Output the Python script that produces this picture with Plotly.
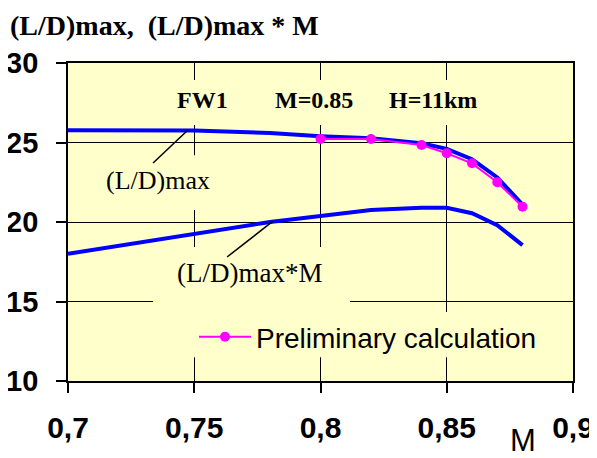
import plotly.graph_objects as go

# ---- data ----
mach = [0.70, 0.75, 0.78, 0.80, 0.82, 0.84, 0.85, 0.86, 0.87, 0.88]
ld_max = [25.77, 25.75, 25.6, 25.4, 25.27, 24.95, 24.6, 23.95, 22.8, 21.1]
ld_max_m = [18.0, 19.25, 20.0, 20.38, 20.75, 20.9, 20.9, 20.55, 19.8, 18.55]

mach_pre = [0.80, 0.82, 0.84, 0.85, 0.86, 0.87, 0.88]
ld_pre = [25.22, 25.22, 24.84, 24.32, 23.69, 22.5, 20.96]

x_tickvals = [0.7, 0.75, 0.8, 0.85, 0.9]
x_ticktext = ["0,7", "0,75", "0,8", "0,85", "0,9"]
y_tickvals = [10, 15, 20, 25, 30]
y_ticktext = ["10", "15", "20", "25", "30"]

BG = "#FFFFCC"
BLUE = "#0000FF"
MAGENTA = "#FF00FF"
SERIF = "Liberation Serif, Times New Roman, serif"
SANS = "Liberation Sans, Arial, sans-serif"

fig = go.Figure()
fig.add_trace(go.Scatter(x=mach, y=ld_max, mode="lines", line=dict(color=BLUE, width=4),
                         showlegend=False, hoverinfo="skip"))
fig.add_trace(go.Scatter(x=mach, y=ld_max_m, mode="lines", line=dict(color=BLUE, width=4),
                         showlegend=False, hoverinfo="skip"))
fig.add_trace(go.Scatter(x=mach_pre, y=ld_pre, mode="lines+markers", name="Preliminary calculation",
                         line=dict(color=MAGENTA, width=2),
                         marker=dict(color=MAGENTA, size=10)))

# boxes hiding grid lines behind text (drawn above grid, below traces)
boxes = [
    (0.742, 0.872, 26.1, 28.93),   # title text box
    (0.705, 0.780, 20.75, 24.2),   # (L/D)max label box
    (0.7337, 0.8117, 14.0, 18.43), # (L/D)max*M label box
    (0.745, 0.891, 11.5, 14.34),   # legend box
]
for x0, x1, y0, y1 in boxes:
    fig.add_shape(type="rect", xref="x", yref="y", x0=x0, x1=x1, y0=y0, y1=y1,
                  fillcolor=BG, line=dict(width=0), layer="between")

# leader lines
fig.add_shape(type="line", xref="x", yref="y", x0=0.7337, y0=23.71, x1=0.7473, y1=25.76,
              line=dict(color="black", width=1.5), layer="above")
fig.add_shape(type="line", xref="x", yref="y", x0=0.763, y0=17.8, x1=0.7812, y1=20.05,
              line=dict(color="black", width=1.5), layer="above")

# text annotations
fig.add_annotation(x=0.7531, y=27.67, xref="x", yref="y", text="FW1", showarrow=False,
                   font=dict(family=SERIF, size=24, color="black", weight="bold"))
fig.add_annotation(x=0.7974, y=27.67, xref="x", yref="y", text="M=0.85", showarrow=False,
                   font=dict(family=SERIF, size=24, color="black", weight="bold"))
fig.add_annotation(x=0.8444, y=27.67, xref="x", yref="y", text="H=11km", showarrow=False,
                   font=dict(family=SERIF, size=24, color="black", weight="bold"))
fig.add_annotation(x=0.7356, y=22.64, xref="x", yref="y", text="(L/D)max", showarrow=False,
                   font=dict(family=SERIF, size=26, color="black"))
fig.add_annotation(x=0.7719, y=16.79, xref="x", yref="y", text="(L/D)max*M", showarrow=False,
                   font=dict(family=SERIF, size=27, color="black"))
fig.add_annotation(x=-60 / 505, y=1 + 38 / 318, xref="paper", yref="paper",
                   xanchor="left", yanchor="middle", text="(L/D)max,  (L/D)max * M",
                   showarrow=False, font=dict(family=SERIF, size=28, color="black", weight="bold"))
fig.add_annotation(x=455 / 505, y=-(440 - 381) / 318, xref="paper", yref="paper",
                   xanchor="center", yanchor="middle", text="M", showarrow=False,
                   font=dict(family=SANS, size=31, color="black"))

fig.update_xaxes(range=[0.7, 0.9], tickvals=x_tickvals, ticktext=x_ticktext,
                 showgrid=True, gridcolor="black", gridwidth=1.3,
                 showline=True, linecolor="black", linewidth=1.8, mirror=True,
                 ticks="outside", ticklen=10, tickwidth=1.5, tickcolor="black",
                 ticklabelstandoff=9, zeroline=False, automargin=False,
                 tickfont=dict(family=SANS, size=30, color="black", weight="bold"))
fig.update_yaxes(range=[10, 30], tickvals=y_tickvals, ticktext=y_ticktext,
                 showgrid=True, gridcolor="black", gridwidth=1.3,
                 showline=True, linecolor="black", linewidth=1.8, mirror=True,
                 ticks="outside", ticklen=10, tickwidth=1.5, tickcolor="black",
                 ticklabelstandoff=12, zeroline=False, automargin=False,
                 tickfont=dict(family=SANS, size=29, color="black", weight="bold"))

fig.update_layout(
    width=597, height=458,
    margin=dict(l=60, r=32, t=55, b=85),
    paper_bgcolor="white", plot_bgcolor=BG,
    showlegend=True,
    legend=dict(x=(194 - 68) / 505, y=1 - (312 - 63) / 318, xanchor="left", yanchor="top",
                bgcolor="rgba(0,0,0,0)", itemwidth=52,
                font=dict(family=SANS, size=28, color="black")),
)

fig.write_html("out.html")
